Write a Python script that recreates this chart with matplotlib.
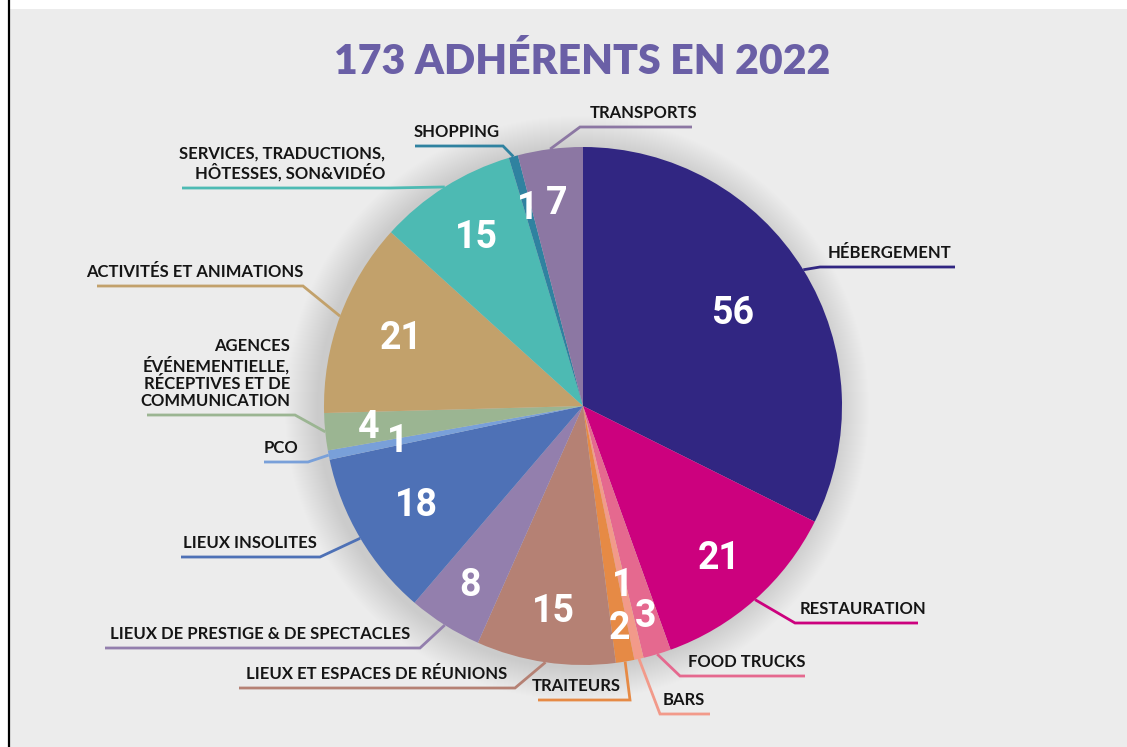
import matplotlib

matplotlib.use("Agg")
import matplotlib.pyplot as plt
import numpy as np
from matplotlib.patches import Circle, Rectangle

# --- data -----------------------------------------------------------------
categories = [
    "HÉBERGEMENT", "RESTAURATION", "FOOD TRUCKS", "BARS", "TRAITEURS",
    "LIEUX ET ESPACES DE RÉUNIONS", "LIEUX DE PRESTIGE & DE SPECTACLES",
    "LIEUX INSOLITES", "PCO",
    "AGENCES\nÉVÉNEMENTIELLE,\nRÉCEPTIVES ET DE\nCOMMUNICATION",
    "ACTIVITÉS ET ANIMATIONS",
    "SERVICES, TRADUCTIONS,\nHÔTESSES, SON&VIDÉO",
    "SHOPPING", "TRANSPORTS",
]
counts = [56, 21, 3, 1, 2, 15, 8, 18, 1, 4, 21, 15, 1, 7]
colors = [
    "#312682", "#cc017e", "#e5698f", "#f29a8a", "#e68a45",
    "#b58174", "#937fad", "#4e71b6", "#79a0d9",
    "#9bb592", "#c2a16b", "#4dbab3", "#2f82a0", "#8c77a3",
]
title = "173 ADHÉRENTS EN 2022"

# --- layout (pixels) ------------------------------------------------------
W, H = 1127, 747
CX, CY, R = 583, 406, 259
# radial position of the value inside each wedge (fraction of radius)
num_r = [0.68, 0.79, 0.85, 0.71, 0.87, 0.80, 0.82, 0.75, 0.73, 0.83, 0.75, 0.77, 0.79, 0.79]
# label placement: (text x, ha, underline y, elbow x, far end x)
label_pos = [
    (828, "left", 267, 820, 955),
    (800, "left", 623, 795, 918),
    (688, "left", 676, 680, 805),
    (663, "left", 714, 660, 710),
    (621, "right", 700, 630, 538),
    (507, "right", 688, 515, 239),
    (410, "right", 648, 420, 105),
    (317, "right", 557, 320, 181),
    (298, "right", 462, 308, 264),
    (290, "right", 415, 295, 147),
    (303, "right", 286, 303, 97),
    (385, "right", 188, 390, 182),
    (500, "right", 146, 503, 415),
    (590, "left", 127, 580, 692),
]

fig = plt.figure(figsize=(W / 100, H / 100), dpi=100, facecolor="white")
ax = fig.add_axes([0, 0, 1, 1])

# background panel and left border
ax.add_patch(Rectangle((10, 9), W - 10, H - 9, facecolor="#ececec", edgecolor="none", zorder=0))
ax.plot([9, 9], [0, H], color="black", lw=1.6, zorder=1)

# soft shadow around the pie
for k in range(1, 34):
    ax.add_patch(Circle((CX - 6, CY + 2), R + k, facecolor="black", edgecolor="none",
                        alpha=0.0035, zorder=1))

wedges, _ = ax.pie(counts, colors=colors, startangle=-90, counterclock=True,
                   center=(CX, CY), radius=R, wedgeprops={"linewidth": 0, "zorder": 2})

for w, val, rf, col, lab, (tx, ha, ly, ex, fx) in zip(
        wedges, counts, num_r, colors, categories, label_pos):
    mid = np.deg2rad((w.theta1 + w.theta2) / 2)
    # value inside wedge
    ax.text(CX + rf * R * np.cos(mid), CY + rf * R * np.sin(mid), str(val),
            ha="center", va="center", color="white", fontsize=27,
            fontweight="bold", family="Roboto", zorder=4)
    # leader line: wedge edge -> elbow -> underline
    sx, sy = CX + R * np.cos(mid), CY + R * np.sin(mid)
    ax.plot([sx, ex, fx], [sy, ly, ly], color=col, lw=2.0, zorder=3,
            solid_capstyle="butt", solid_joinstyle="miter")
    ax.text(tx, ly - 6, lab, ha=ha, va="bottom", multialignment=ha,
            fontsize=12.0, fontweight="bold", family="Lato", color="#151515",
            linespacing=1.1, zorder=4)

ax.text(582, 62, title, ha="center", va="center", fontsize=29.5,
        fontweight="heavy", family="Lato", color="#6a5fa6", zorder=4)

ax.set_xlim(0, W)
ax.set_ylim(H, 0)
ax.set_aspect("equal")
ax.axis("off")

fig.savefig("out.png", dpi=100, facecolor="white")
